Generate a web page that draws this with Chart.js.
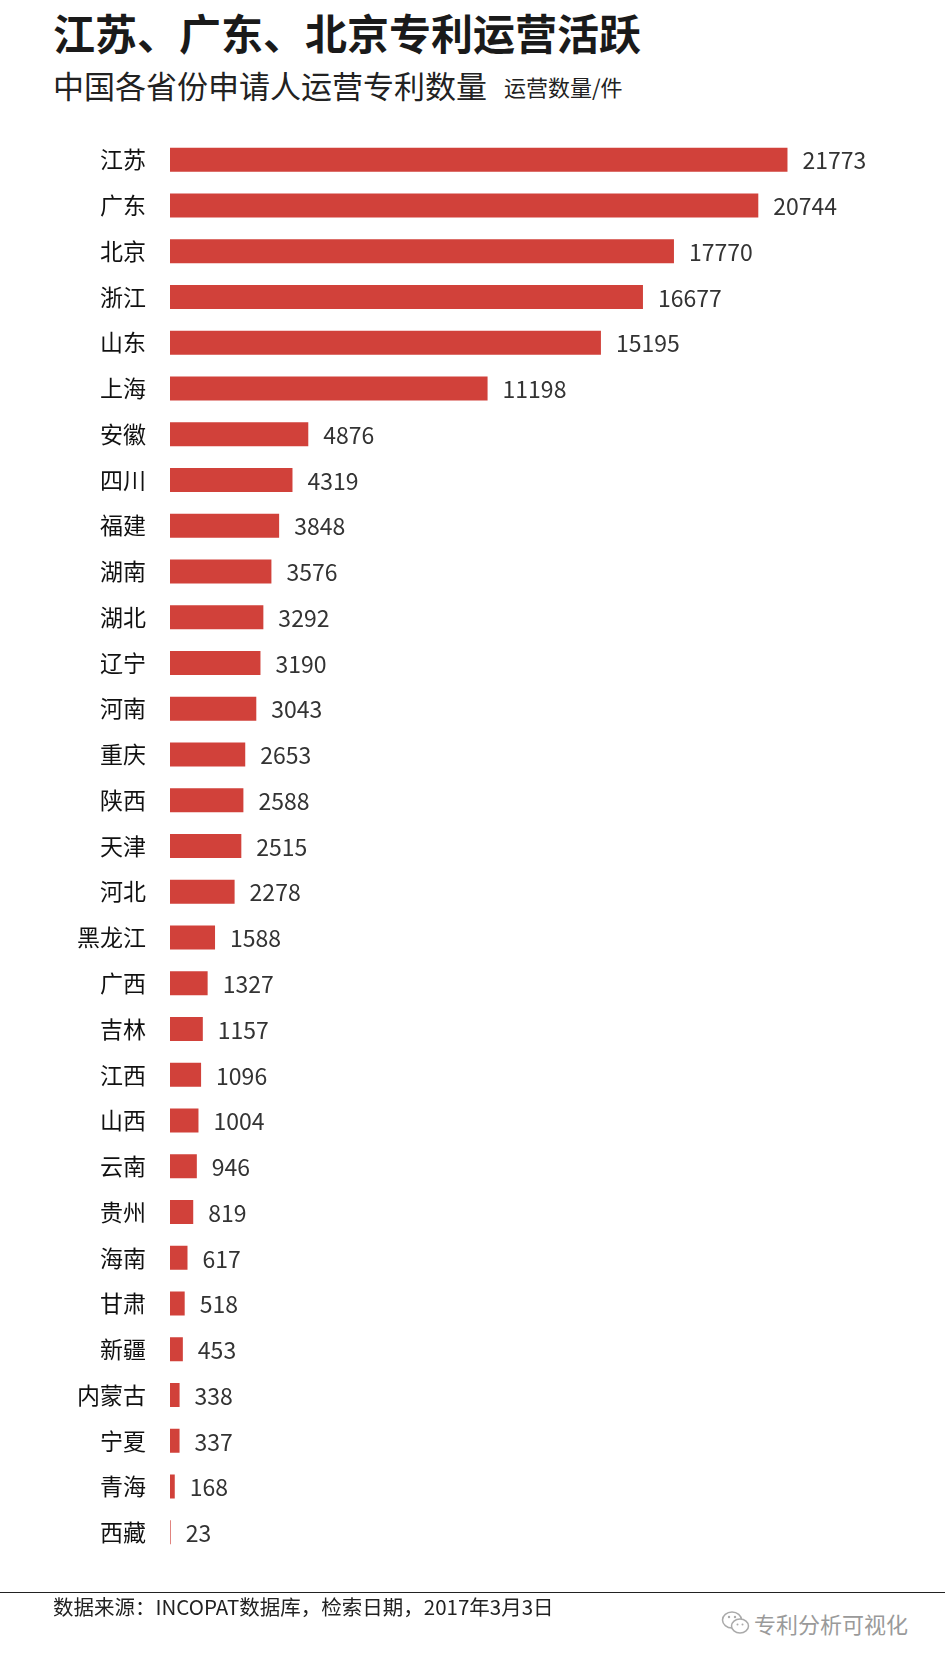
<!DOCTYPE html>
<html>
<head>
<meta charset="utf-8">
<script src="https://cdn.jsdelivr.net/npm/chart.js@4/dist/chart.umd.min.js"></script>
<style>
    body { margin: 0; background: #fff; width: 945px; height: 1663px; position: relative; overflow: hidden;
           font-family: "Noto Sans CJK SC", "Noto Sans", sans-serif; }
    .txt { position: absolute; white-space: nowrap; }
    #titulo { left: 53px; top: 10px; font-size: 42px; line-height: 44px; font-weight: 700; color: #1a1a1a; }
    #subtitulo { left: 53px; top: 68px; font-size: 31px; line-height: 33px; color: #222; }
    #unidad { left: 504px; top: 74px; font-size: 22px; line-height: 24px; color: #222; }
    #contenedor { position: absolute; left: 0; top: 99px; width: 945px; height: 1494px; }
    #linea { position: absolute; left: 0; top: 1592px; width: 945px; height: 0; border-top: 1.5px solid #222; }
    #fuente { left: 53px; top: 1595px; font-size: 20.5px; line-height: 23px; color: #222; }
    #marca { left: 754px; top: 1610px; font-size: 22px; line-height: 26px; color: #9a9a9a; }
    #icono { position: absolute; left: 721px; top: 1609px; }
</style>
</head>
<body>
<div class="txt" id="titulo">江苏、广东、北京专利运营活跃</div>
<div class="txt" id="subtitulo">中国各省份申请人运营专利数量</div>
<div class="txt" id="unidad">运营数量/件</div>
<div id="contenedor"><canvas id="grafico"></canvas></div>
<div id="linea"></div>
<div class="txt" id="fuente">数据来源：INCOPAT数据库，检索日期，2017年3月3日</div>
<svg id="icono" width="30" height="28" viewBox="0 0 30 28">
    <ellipse cx="11" cy="11" rx="9.5" ry="8" fill="none" stroke="#aaa" stroke-width="1.5"/>
    <ellipse cx="19" cy="17" rx="8.5" ry="7" fill="#fff" stroke="#aaa" stroke-width="1.5"/>
    <circle cx="8" cy="8" r="1.2" fill="#aaa"/>
    <circle cx="14" cy="8" r="1.2" fill="#aaa"/>
    <circle cx="16.5" cy="15.5" r="1" fill="#aaa"/>
    <circle cx="21.5" cy="15.5" r="1" fill="#aaa"/>
</svg>
<div class="txt" id="marca">专利分析可视化</div>

<script>
//Datos del grafico: provincias y numero de patentes operadas
var provincias = ['江苏', '广东', '北京', '浙江', '山东', '上海', '安徽', '四川', '福建', '湖南',
    '湖北', '辽宁', '河南', '重庆', '陕西', '天津', '河北', '黑龙江', '广西', '吉林',
    '江西', '山西', '云南', '贵州', '海南', '甘肃', '新疆', '内蒙古', '宁夏', '青海', '西藏'];
var cantidades = [21773, 20744, 17770, 16677, 15195, 11198, 4876, 4319, 3848, 3576,
    3292, 3190, 3043, 2653, 2588, 2515, 2278, 1588, 1327, 1157,
    1096, 1004, 946, 819, 617, 518, 453, 338, 337, 168, 23];

var colorBarra = '#d1413a';
var fuente = '"Noto Sans CJK SC", "Noto Sans", sans-serif';

//Plugin para escribir el valor al final de cada barra
var etiquetasValor = {
    id: 'etiquetasValor',
    afterDatasetsDraw: function (chart) {
        var ctx = chart.ctx;
        var meta = chart.getDatasetMeta(0);
        ctx.save();
        ctx.font = '23px ' + fuente;
        ctx.fillStyle = '#333';
        ctx.textAlign = 'left';
        ctx.textBaseline = 'middle';
        meta.data.forEach(function (barra, i) {
            ctx.fillText(String(cantidades[i]), barra.x + 15, barra.y + 1);
        });
        ctx.restore();
    }
};

var ctx = document.getElementById('grafico').getContext('2d');
var graficoBarras = new Chart(ctx, {
    type: 'bar',
    data: {
        labels: provincias,
        datasets: [{
            data: cantidades,
            backgroundColor: colorBarra,
            borderWidth: 0,
            barPercentage: 0.524,
            categoryPercentage: 1
        }]
    },
    options: {
        indexAxis: 'y',
        responsive: true,
        maintainAspectRatio: false,
        animation: false,
        layout: { padding: { left: 0, right: 66, top: 0, bottom: 0 } },
        plugins: {
            legend: { display: false },
            tooltip: { enabled: false }
        },
        scales: {
            x: {
                display: false,
                min: 0,
                max: 25000
            },
            y: {
                grid: { display: false, drawTicks: false },
                border: { display: false },
                ticks: {
                    color: '#111',
                    padding: 24,
                    font: { size: 23, family: fuente }
                },
                afterFit: function (scale) {
                    scale.width = 170;
                }
            }
        }
    },
    plugins: [etiquetasValor]
});
</script>
</body>
</html>
